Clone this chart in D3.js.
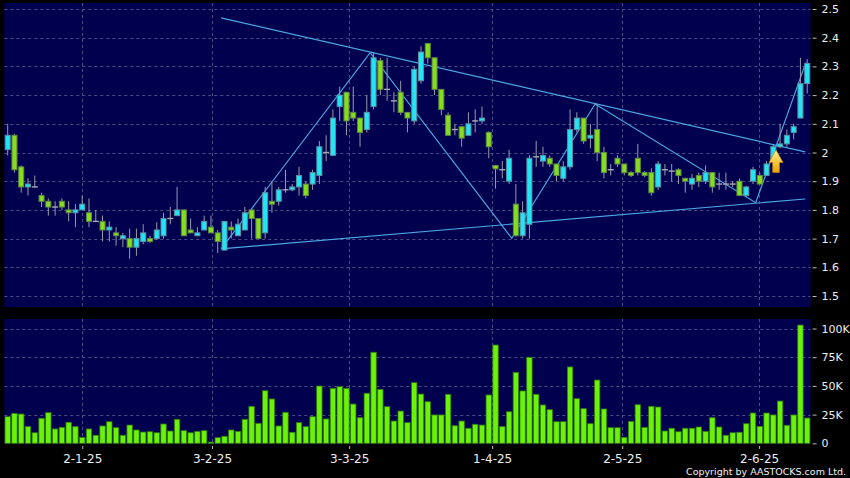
<!DOCTYPE html>
<html><head><meta charset="utf-8">
<script src="https://cdn.jsdelivr.net/npm/d3@7"></script>
<style>body{margin:0;background:#000}svg{display:block}</style></head>
<body>
<script>
// ---- data (index = trading day) ----
const open = [2.01,2.06,1.95,1.88,1.88,1.85,1.83,1.81,1.83,1.80,
1.79,1.80,1.79,1.76,1.76,1.73,1.72,1.70,1.70,1.67,
1.69,1.70,1.70,1.71,1.77,1.78,1.80,1.73,1.71,1.73,
1.74,1.72,1.66,1.74,1.71,1.73,1.80,1.77,1.72,1.83,
1.83,1.87,1.87,1.88,1.89,1.89,1.92,2.00,1.99,2.16,
2.21,2.14,2.12,2.08,2.16,2.32,2.22,2.18,2.21,2.14,
2.11,2.25,2.38,2.33,2.22,2.13,2.08,2.09,2.06,2.11,
2.11,2.07,1.955,1.94,1.90,1.82,1.71,1.75,1.985,1.97,
1.98,1.96,1.91,1.95,2.08,2.12,2.05,2.08,2.00,1.94,
1.98,1.96,1.93,1.98,1.93,1.93,1.88,1.94,1.935,1.94,
1.91,1.89,1.92,1.90,1.93,1.89,1.89,1.89,1.90,1.85,
1.90,1.92,1.92,1.97,2.02,2.03,2.07,2.12,2.24];
const close = [2.06,1.94,1.88,1.89,1.88,1.83,1.81,1.81,1.81,1.79,
1.80,1.82,1.76,1.76,1.73,1.74,1.71,1.71,1.67,1.70,
1.72,1.69,1.73,1.77,1.77,1.80,1.71,1.72,1.72,1.76,
1.72,1.69,1.76,1.73,1.75,1.79,1.77,1.70,1.86,1.82,
1.87,1.87,1.88,1.92,1.85,1.93,2.02,2.00,2.12,2.20,
2.11,2.12,2.07,2.14,2.33,2.22,2.22,2.18,2.14,2.12,
2.29,2.35,2.33,2.22,2.15,2.06,2.08,2.05,2.10,2.11,
2.12,2.02,1.943,1.94,1.98,1.71,1.79,1.98,1.985,1.99,
1.96,1.92,1.95,2.08,2.12,2.04,2.06,2.00,1.93,1.94,
1.96,1.93,1.92,1.93,1.92,1.86,1.96,1.94,1.935,1.92,
1.90,1.91,1.90,1.93,1.88,1.89,1.89,1.89,1.85,1.88,
1.94,1.89,1.96,2.02,2.03,2.06,2.09,2.24,2.31];
const high = [2.10,2.065,1.955,1.91,1.92,1.86,1.84,1.83,1.84,1.83,
1.82,1.85,1.84,1.80,1.78,1.76,1.74,1.72,1.735,1.735,
1.75,1.71,1.757,1.79,1.81,1.88,1.80,1.77,1.74,1.78,
1.78,1.73,1.76,1.76,1.77,1.81,1.80,1.77,1.88,1.90,
1.88,1.94,1.89,1.95,1.90,1.94,2.04,2.06,2.15,2.23,
2.21,2.23,2.12,2.20,2.35,2.33,2.33,2.21,2.25,2.14,
2.30,2.37,2.38,2.33,2.22,2.14,2.10,2.09,2.14,2.15,
2.16,2.074,1.955,1.97,2.01,1.89,1.83,1.99,2.04,2.02,
1.99,1.96,1.97,2.15,2.14,2.12,2.10,2.17,2.02,1.96,
1.99,1.96,1.935,2.03,1.935,1.945,1.97,1.96,1.96,1.945,
1.912,1.925,1.93,1.955,1.93,1.93,1.93,1.90,1.91,1.884,
1.95,1.93,1.97,2.03,2.10,2.08,2.10,2.33,2.325];
const low = [1.99,1.93,1.86,1.85,1.878,1.81,1.78,1.78,1.80,1.76,
1.74,1.80,1.74,1.76,1.69,1.69,1.675,1.67,1.63,1.64,
1.68,1.685,1.695,1.70,1.75,1.78,1.71,1.72,1.71,1.73,
1.72,1.65,1.66,1.70,1.71,1.73,1.70,1.70,1.70,1.79,
1.815,1.86,1.865,1.85,1.84,1.87,1.89,1.97,1.99,2.11,
2.06,2.11,2.02,2.07,2.15,2.20,2.18,2.14,2.13,2.07,
2.10,2.24,2.31,2.20,2.13,2.06,2.06,2.02,2.06,2.07,
2.10,1.98,1.874,1.91,1.89,1.707,1.70,1.70,1.95,1.95,
1.95,1.90,1.90,1.94,2.07,2.03,2.015,1.97,1.91,1.92,
1.95,1.92,1.915,1.92,1.915,1.85,1.87,1.92,1.90,1.89,
1.86,1.87,1.88,1.89,1.86,1.87,1.87,1.88,1.85,1.845,
1.89,1.89,1.92,1.96,2.015,2.02,2.046,2.12,2.206];
const volumeK = [23.2,26.1,25.5,14.5,9.2,21.8,26.7,12.5,13.9,18.3,
14.5,5.2,12.5,7.0,15.1,18.8,13.6,7.0,15.9,11.6,
9.8,10.1,9.2,16.8,10.7,20.9,11.0,9.2,10.4,11.0,
1.1,4.9,6.1,11.6,10.4,20.9,32.2,17.4,45.8,38.6,
15.1,27.0,9.6,18.0,14.5,23.2,49.9,21.2,47.9,49.3,
47.9,34.2,22.3,43.6,79.3,47.0,31.9,19.4,28.1,18.0,
52.8,42.9,36.2,24.7,24.7,42.7,15.3,19.4,13.1,16.6,
15.9,42.1,85.6,14.5,27.5,61.8,45.6,74.9,42.7,33.4,
29.3,18.8,18.8,66.5,38.9,30.2,17.1,55.1,29.9,13.6,
13.6,5.2,19.1,33.6,13.9,32.2,31.6,10.7,13.1,10.1,
13.1,13.1,14.2,10.4,22.3,14.2,7.0,9.2,9.6,17.1,
26.4,14.8,26.4,24.7,36.8,15.7,24.7,103,22.0];
const dateLabels = ["2-1-25","3-2-25","3-3-25","1-4-25","2-5-25","2-6-25"];
const dateIndex  = [11, 30.15, 50.4, 71.5, 90.7, 110.9];
const priceTicks = [1.5,1.6,1.7,1.8,1.9,2,2.1,2.2,2.3,2.4,2.5];
const volTicks = [0,25,50,75,100];
const volTickLabels = ["0","25K","50K","75K","100K"];
// trend lines drawn on the chart: [idx1, price1, idx2, price2]
const trendLines = [[31.5,2.469,117.7,2.002],[31.5,1.664,117.7,1.838]];
const zigzag = [[31.5,1.664],[53.5,2.348],[74.4,1.701],[86.7,2.169],[110.4,1.825],[117.8,2.313]];
const arrowAt = [113.4, 2.009];

// ---- chart ----
const W=850,H=478;
const svg=d3.select('body').append('svg').attr('width',W).attr('height',H)
  .style('font-family','"DejaVu Sans", sans-serif');
svg.append('rect').attr('width',W).attr('height',H).attr('fill','#000');
const L=4.3,R=810.6,pTop=3,pBot=307,vTop=319,vBot=444;
const n=open.length;
const x=d3.scaleLinear().domain([-0.5,n-0.5]).range([L,R]);
const step=x(1)-x(0);
const y=d3.scaleLinear().domain([1.5,2.5]).range([296,9]);
const yv=d3.scaleLinear().domain([0,100]).range([443.3,328.5]);
const navy='#00004e', gridC='#4c4c86';

svg.append('rect').attr('x',L).attr('y',pTop).attr('width',R-L).attr('height',pBot-pTop).attr('fill',navy);
svg.append('rect').attr('x',L).attr('y',vTop).attr('width',R-L).attr('height',vBot-vTop).attr('fill',navy);

const grid=svg.append('g').attr('stroke',gridC).attr('stroke-dasharray','3,3').attr('stroke-width',1);
grid.selectAll('.hp').data(priceTicks).join('line')
  .attr('x1',L).attr('x2',R).attr('y1',d=>Math.round(y(d))+0.5).attr('y2',d=>Math.round(y(d))+0.5);
grid.selectAll('.hv').data(volTicks.slice(1)).join('line')
  .attr('x1',L).attr('x2',R).attr('y1',d=>Math.round(yv(d))+0.5).attr('y2',d=>Math.round(yv(d))+0.5);
dateIndex.forEach(d=>{
  const xx=Math.round(x(d))+0.5;
  grid.append('line').attr('x1',xx).attr('x2',xx).attr('y1',pTop).attr('y2',pBot);
  grid.append('line').attr('x1',xx).attr('x2',xx).attr('y1',vTop).attr('y2',vBot);
});

// volume bars
const bw=step*0.8;
svg.append('g').selectAll('rect').data(volumeK).join('rect')
  .attr('x',(d,i)=>x(i)-bw/2).attr('width',bw)
  .attr('y',d=>yv(d)).attr('height',d=>yv(0)-yv(d))
  .attr('fill','#6cf208').attr('stroke','#2f7a10').attr('stroke-width',0.8);

// trend lines
const tl=svg.append('g').attr('stroke','#4aa8e2').attr('stroke-width',1.2).attr('fill','none');
trendLines.forEach(t=>tl.append('line').attr('x1',x(t[0])).attr('y1',y(t[1])).attr('x2',x(t[2])).attr('y2',y(t[3])));
tl.append('path').attr('d',d3.line().x(d=>x(d[0])).y(d=>y(d[1]))(zigzag));

// candles
const cg=svg.append('g');
const cw=step*0.74;
open.forEach((o,i)=>{
  const c=close[i], cx=x(i);
  cg.append('line').attr('x1',cx).attr('x2',cx).attr('y1',y(high[i])).attr('y2',y(low[i]))
    .attr('stroke','#9a9aa8').attr('stroke-width',1);
  if (Math.abs(c-o)<0.003){
    cg.append('line').attr('x1',cx-cw/2-0.5).attr('x2',cx+cw/2+0.5).attr('y1',y(o)).attr('y2',y(o))
      .attr('stroke','#a8a8b4').attr('stroke-width',1.4);
  } else {
    const up=c>o;
    cg.append('rect').attr('x',cx-cw/2).attr('width',cw)
      .attr('y',y(Math.max(o,c))).attr('height',Math.max(1,Math.abs(y(o)-y(c))))
      .attr('fill',up?'#22e4f2':'#86dc1e').attr('stroke',up?'#5a90a6':'#5e8a44').attr('stroke-width',1);
  }
});

// arrow
const defs=svg.append('defs');
const gr=defs.append('linearGradient').attr('id','ag').attr('x1',0).attr('y1',0).attr('x2',0).attr('y2',1);
gr.append('stop').attr('offset','0%').attr('stop-color','#fff48a');
gr.append('stop').attr('offset','100%').attr('stop-color','#efa000');
svg.append('path').attr('transform',`translate(${x(arrowAt[0])},${y(arrowAt[1])})`)
  .attr('d','M0,0 L7,12.5 L3.4,12.5 L3.4,22.5 L-3.4,22.5 L-3.4,12.5 L-7,12.5 Z')
  .attr('fill','url(#ag)').attr('stroke','#c98600').attr('stroke-width',0.6);

// right price axis
const ay=svg.append('g').attr('transform',`translate(${R+2},0)`)
  .call(d3.axisRight(y).tickValues(priceTicks).tickSize(4).tickPadding(5).tickFormat(d=>String(d)));
const av=svg.append('g').attr('transform',`translate(${R+2},0)`)
  .call(d3.axisRight(yv).tickValues(volTicks).tickSize(4).tickPadding(5).tickFormat((d,i)=>volTickLabels[i]));
const ax=svg.append('g').attr('transform',`translate(0,${vBot+2})`)
  .call(d3.axisBottom(x).tickValues(dateIndex).tickSize(3).tickPadding(5).tickFormat((d,i)=>dateLabels[i]));
[ay,av,ax].forEach(g=>{
  g.select('.domain').remove();
  g.selectAll('line').attr('stroke','#bbbbbb');
  g.selectAll('text').attr('fill','#eeeeee').style('font-family','"DejaVu Sans", sans-serif');
});
ay.selectAll('text').attr('font-size',11);
av.selectAll('text').attr('font-size',11);
ax.selectAll('text').attr('font-size',12);

svg.append('text').attr('x',846).attr('y',475).attr('text-anchor','end')
  .attr('fill','#f0f0f0').attr('font-size',9.5).text('Copyright by AASTOCKS.com Ltd.');
</script>
</body></html>
